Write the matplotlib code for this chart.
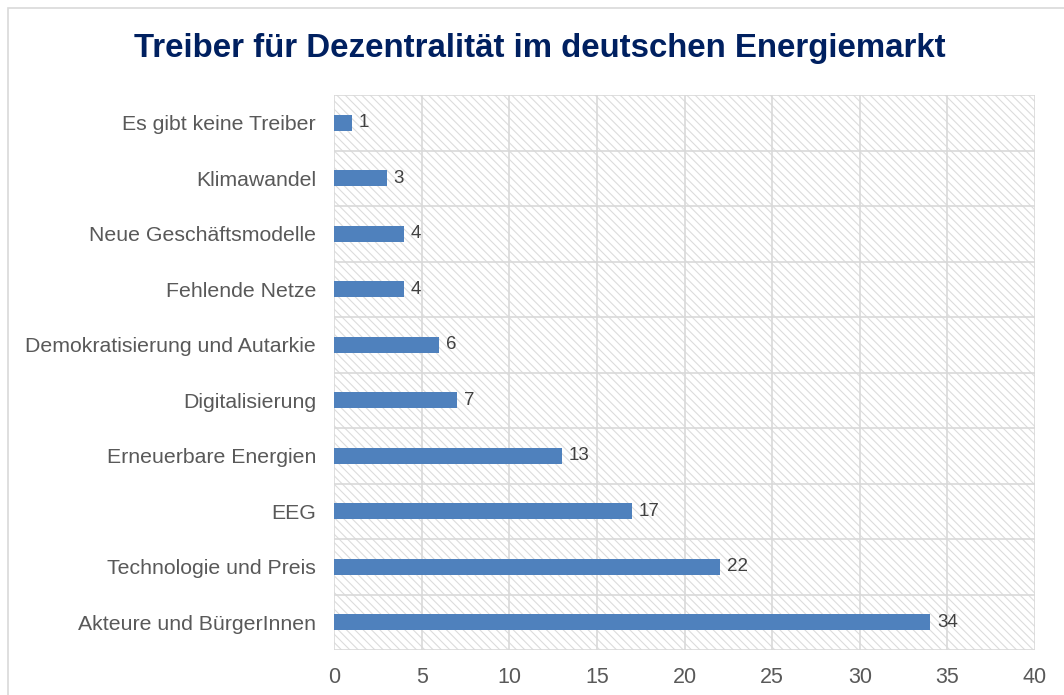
import matplotlib
matplotlib.use("Agg")
import matplotlib.pyplot as plt
from matplotlib.patches import Rectangle

categories = ["Akteure und BürgerInnen", "Technologie und Preis", "EEG",
              "Erneuerbare Energien", "Digitalisierung",
              "Demokratisierung und Autarkie", "Fehlende Netze",
              "Neue Geschäftsmodelle", "Klimawandel", "Es gibt keine Treiber"]
values = [34, 22, 17, 13, 7, 6, 4, 4, 3, 1]
xticks = [0, 5, 10, 15, 20, 25, 30, 35, 40]

plt.rcParams['font.family'] = ['Liberation Sans', 'DejaVu Sans']
plt.rcParams['hatch.color'] = '#d9d9d9'
plt.rcParams['hatch.linewidth'] = 0.8

fig = plt.figure(figsize=(10.64, 6.95), dpi=100)
W, H = 1064, 695
ax = fig.add_axes([334 / W, 1 - 650 / H, 701 / W, 555 / H])

# chart border
fig.patches.append(Rectangle((8 / W, -0.01), 1.05, 1 - 8 / H + 0.01,
                             transform=fig.transFigure, fill=False,
                             edgecolor='#d9d9d9', linewidth=1.2))

# hatched plot area
ax.add_patch(Rectangle((0, 0), 1, 1, transform=ax.transAxes, facecolor='white',
                       hatch='\\\\\\\\', edgecolor='#dcdcdc', linewidth=0, zorder=0))

y = list(range(len(categories)))
ax.barh(y, values, height=0.29, color='#4f81bd', zorder=3)
for yi, v in zip(y, values):
    ax.text(v + 0.4, yi, str(v), va='center', ha='left', fontsize=13.5,
            color='#404040', zorder=4)

ax.set_xlim(0, 40)
ax.set_ylim(-0.5, len(categories) - 0.5)
ax.set_xticks(xticks)
ax.set_yticks(y)
ax.set_yticklabels(categories)
ax.set_yticks([i - 0.5 for i in range(len(categories) + 1)], minor=True)
ax.grid(axis='x', color='#d9d9d9', linewidth=1.2, zorder=1)
ax.grid(axis='y', which='minor', color='#d9d9d9', linewidth=1.2, zorder=1)
ax.tick_params(axis='both', which='both', length=0, colors='#595959')
ax.tick_params(axis='x', pad=12, labelsize=15.5)
ax.tick_params(axis='y', pad=13, labelsize=15.3)
for s in ax.spines.values():
    s.set_visible(False)
ax.set_axisbelow(True)

fig.text(540 / W, 1 - 48 / H, "Treiber für Dezentralität im deutschen Energiemarkt",
         ha='center', va='center', fontsize=23.8, fontweight='bold', color='#002060')

fig.savefig("out.png", dpi=100)
